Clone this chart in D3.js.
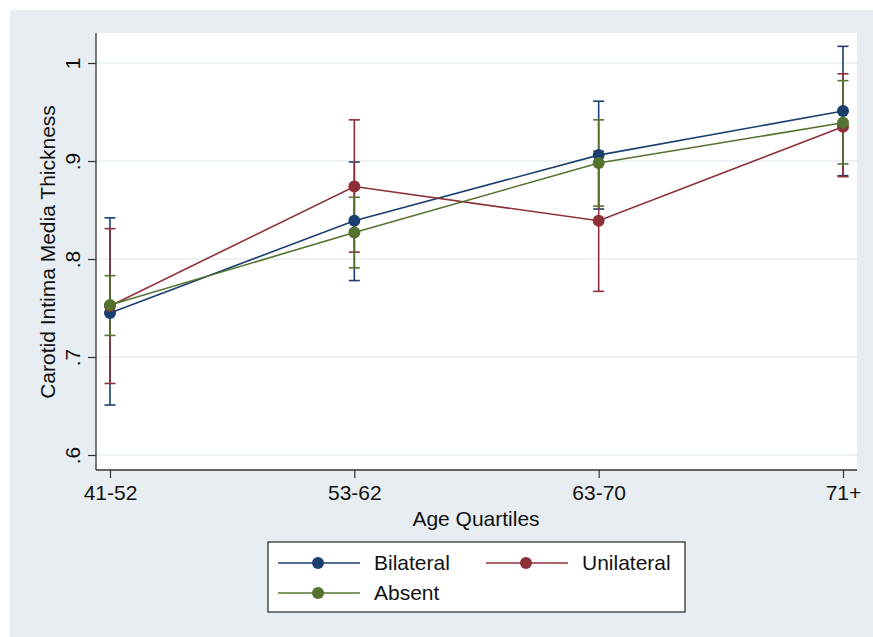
<!DOCTYPE html>
<html><head><meta charset="utf-8">
<script src="https://cdn.jsdelivr.net/npm/d3@7"></script>
<style>html,body{margin:0;padding:0;background:#fff;}svg{display:block;}</style>
</head><body><svg id="c" width="873" height="637"></svg>
<script>
const categories = ["41-52", "53-62", "63-70", "71+"];
const seriesNames = ["Bilateral", "Unilateral", "Absent"];
const bilateralMean = [0.745, 0.839, 0.906, 0.951];
const bilateralLow  = [0.651, 0.778, 0.851, 0.885];
const bilateralHigh = [0.842, 0.899, 0.961, 1.017];
const unilateralMean = [0.752, 0.874, 0.839, 0.935];
const unilateralLow  = [0.673, 0.807, 0.767, 0.884];
const unilateralHigh = [0.831, 0.942, 0.910, 0.989];
const absentMean = [0.753, 0.827, 0.898, 0.939];
const absentLow  = [0.722, 0.791, 0.854, 0.897];
const absentHigh = [0.783, 0.863, 0.942, 0.982];
const yTicks = [0.6, 0.7, 0.8, 0.9, 1.0];
const yTickLabels = [".6", ".7", ".8", ".9", "1"];
const colors = ["#1a3f6f", "#8e3039", "#52722d"];

const series = [
  {name: seriesNames[0], mean: bilateralMean, lo: bilateralLow, hi: bilateralHigh, color: colors[0]},
  {name: seriesNames[1], mean: unilateralMean, lo: unilateralLow, hi: unilateralHigh, color: colors[1]},
  {name: seriesNames[2], mean: absentMean, lo: absentLow, hi: absentHigh, color: colors[2]}
];

const svg = d3.select("#c");
const font = "Arial, 'Liberation Sans', sans-serif";
const fs = 21;
svg.append("rect").attr("x",10).attr("y",10).attr("width",863).attr("height",627).attr("fill","#e7edf1");

const L = 96, R = 857, T = 33, B = 470;
svg.append("rect").attr("x",L).attr("y",T).attr("width",R-L).attr("height",B-T).attr("fill","#fff");

const x = d3.scalePoint().domain(categories).range([110, 843]);
const y = d3.scaleLinear().domain([0.6, 1.0]).range([455, 63]);

// gridlines
svg.append("g").selectAll("line").data(yTicks).join("line")
  .attr("x1",L).attr("x2",R).attr("y1",d=>y(d)).attr("y2",d=>y(d))
  .attr("stroke","#e6eef1").attr("stroke-width",1.5);

// axes
const yAxis = d3.axisLeft(y).tickValues(yTicks).tickFormat((d,i)=>yTickLabels[i]).tickSize(8).tickSizeOuter(0);
const gy = svg.append("g").attr("transform",`translate(${L},0)`).call(yAxis);
gy.select(".domain").remove();
gy.append("line").attr("x1",0).attr("x2",0).attr("y1",T).attr("y2",B).attr("stroke","#333").attr("stroke-width",1.3);
gy.selectAll(".tick line").attr("stroke","#333").attr("stroke-width",1.2);
gy.selectAll(".tick text").attr("font-family",font).attr("font-size",fs).attr("fill","#111")
  .attr("x",-16).attr("y",0).attr("dy",0).attr("text-anchor","middle")
  .attr("transform","rotate(-90,-16,0)");

const xAxis = d3.axisBottom(x).tickSize(8).tickSizeOuter(0).tickPadding(6);
const gx = svg.append("g").attr("transform",`translate(0,${B})`).call(xAxis);
gx.select(".domain").remove();
gx.append("line").attr("x1",L).attr("x2",R).attr("y1",0).attr("y2",0).attr("stroke","#333").attr("stroke-width",1.3);
gx.selectAll(".tick line").attr("stroke","#333").attr("stroke-width",1.2);
gx.selectAll(".tick text").attr("font-family",font).attr("font-size",fs).attr("fill","#111")
  .attr("y",0).attr("dy",0).attr("transform","translate(0,30)");

// axis titles
svg.append("text").attr("x",476).attr("y",526).attr("text-anchor","middle")
  .attr("font-family",font).attr("font-size",fs).attr("fill","#111").text("Age Quartiles");
svg.append("text").attr("transform","translate(55,252) rotate(-90)").attr("text-anchor","middle")
  .attr("font-family",font).attr("font-size",fs).attr("fill","#111").text("Carotid Intima Media Thickness");

// series
const line = d3.line().x((d,i)=>x(categories[i])).y(d=>y(d));
const capW = 5.5;
series.forEach(s => {
  const g = svg.append("g");
  const ci = categories.map((c,i)=>({c, lo:s.lo[i], hi:s.hi[i]}));
  g.selectAll("line.v").data(ci).join("line").attr("class","v")
    .attr("x1",d=>x(d.c)).attr("x2",d=>x(d.c)).attr("y1",d=>y(d.lo)).attr("y2",d=>y(d.hi))
    .attr("stroke",s.color).attr("stroke-width",1.6);
  g.selectAll("line.ch").data(ci).join("line").attr("class","ch")
    .attr("x1",d=>x(d.c)-capW).attr("x2",d=>x(d.c)+capW).attr("y1",d=>y(d.hi)).attr("y2",d=>y(d.hi))
    .attr("stroke",s.color).attr("stroke-width",1.6);
  g.selectAll("line.cl").data(ci).join("line").attr("class","cl")
    .attr("x1",d=>x(d.c)-capW).attr("x2",d=>x(d.c)+capW).attr("y1",d=>y(d.lo)).attr("y2",d=>y(d.lo))
    .attr("stroke",s.color).attr("stroke-width",1.6);
});
series.forEach(s => {
  const g = svg.append("g");
  g.append("path").attr("d",line(s.mean)).attr("fill","none").attr("stroke",s.color).attr("stroke-width",1.6);
  g.selectAll("circle").data(s.mean).join("circle")
    .attr("cx",(d,i)=>x(categories[i])).attr("cy",d=>y(d)).attr("r",6).attr("fill",s.color);
});

// legend
svg.append("rect").attr("x",268).attr("y",542).attr("width",417).attr("height",70)
  .attr("fill","#fff").attr("stroke","#222").attr("stroke-width",1.2);
const legPos = [{x:278, y:563}, {x:486, y:563}, {x:278, y:593}];
series.forEach((s,i) => {
  const p = legPos[i];
  svg.append("line").attr("x1",p.x).attr("x2",p.x+82).attr("y1",p.y).attr("y2",p.y).attr("stroke",s.color).attr("stroke-width",1.6);
  svg.append("circle").attr("cx",p.x+40).attr("cy",p.y).attr("r",6).attr("fill",s.color);
  svg.append("text").attr("x",p.x+96).attr("y",p.y+7).attr("font-family",font).attr("font-size",fs).attr("fill","#111").text(s.name);
});
</script></body></html>
